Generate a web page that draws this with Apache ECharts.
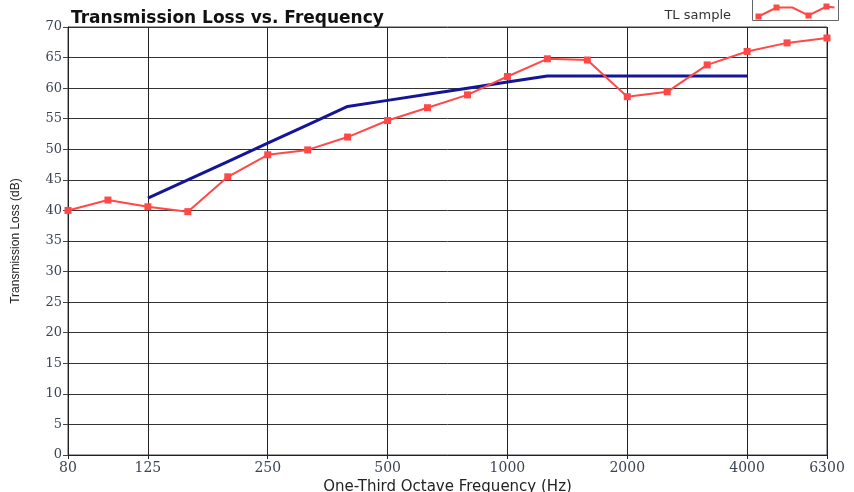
<!DOCTYPE html>
<html>
<head>
<meta charset="utf-8">
<script src="https://cdn.jsdelivr.net/npm/echarts@6/dist/echarts.min.js"></script>
<style>
  html, body { margin: 0; padding: 0; background: #fff; }
  #chart { width: 854px; height: 492px; }
</style>
</head>
<body>
<div id="chart"></div>
<script>
// one-third octave bands
var freqs = ['80', '100', '125', '160', '200', '250', '315', '400', '500', '630',
             '800', '1000', '1250', '1600', '2000', '2500', '3150', '4000', '5000', '6300'];
// bands that carry a label and a vertical grid line
var shownFreqs = ['80', '125', '250', '500', '1000', '2000', '4000', '6300'];
// measured transmission loss (dB)
var tlSample = [40, 41.7, 40.6, 39.8, 45.5, 49.1, 49.9, 52, 54.7, 56.8,
                58.9, 61.9, 64.8, 64.6, 58.6, 59.4, 63.8, 66, 67.4, 68.2];
// reference contour (dB), 125 - 4000 Hz
var refContour = [null, null, 42, 45, 48, 51, 54, 57, 58, 59,
                  60, 61, 62, 62, 62, 62, 62, 62, null, null];
var yTicks = [0, 70, 5]; // min, max, step

function isShown(i) {
    return shownFreqs.indexOf(freqs[i]) >= 0;
}

var chart = echarts.init(document.getElementById('chart'));
var labelFont = 'DejaVu Serif, serif';

chart.setOption({
    backgroundColor: '#fff',
    animation: false,
    title: {
        text: 'Transmission Loss vs. Frequency',
        left: 66,
        top: 5,
        textStyle: {
            fontFamily: 'DejaVu Sans, Verdana, sans-serif',
            fontWeight: 'bold',
            fontSize: 17,
            color: '#111'
        }
    },
    legend: {
        data: ['TL sample'],
        right: 118,
        top: 4,
        icon: 'none',
        itemWidth: 0,
        textStyle: {
            fontFamily: 'DejaVu Sans, Verdana, sans-serif',
            fontSize: 13,
            color: '#333'
        }
    },
    graphic: [
        {
            type: 'group',
            left: 752,
            top: -2,
            children: [
                { type: 'rect', shape: { x: 0, y: 0, width: 86, height: 22 },
                  style: { fill: '#fff', stroke: '#666', lineWidth: 1 } },
                { type: 'polyline',
                  shape: { points: [[6, 18], [24, 9], [40, 9], [56, 17], [74, 8], [82, 9]] },
                  style: { stroke: '#ff4848', lineWidth: 2, fill: null } },
                { type: 'rect', shape: { x: 3, y: 15, width: 6, height: 6 }, style: { fill: '#ff4848' } },
                { type: 'rect', shape: { x: 21, y: 6, width: 6, height: 6 }, style: { fill: '#ff4848' } },
                { type: 'rect', shape: { x: 53, y: 14, width: 6, height: 6 }, style: { fill: '#ff4848' } },
                { type: 'rect', shape: { x: 71, y: 5, width: 6, height: 6 }, style: { fill: '#ff4848' } }
            ]
        }
    ],
    grid: {
        left: 68,
        right: 27,
        top: 27,
        bottom: 37,
        outerBoundsMode: 'none',
        containLabel: false,
        show: true,
        borderColor: '#444',
        borderWidth: 1
    },
    xAxis: {
        type: 'category',
        data: freqs,
        boundaryGap: false,
        name: 'One-Third Octave Frequency (Hz)',
        nameLocation: 'middle',
        nameGap: 22,
        nameTextStyle: {
            fontFamily: 'DejaVu Sans, Verdana, sans-serif',
            fontSize: 15,
            color: '#222'
        },
        axisLine: { show: true, lineStyle: { color: '#222', width: 1 } },
        axisTick: { show: true, interval: function (i) { return isShown(i); }, length: 4, lineStyle: { color: '#222' } },
        axisLabel: {
            interval: function (i) { return isShown(i); },
            fontFamily: labelFont,
            fontSize: 14,
            color: '#3b4556',
            margin: 6
        },
        splitLine: {
            show: true,
            interval: function (i) { return isShown(i); },
            lineStyle: { color: '#222', width: 1 }
        }
    },
    yAxis: {
        type: 'value',
        min: yTicks[0],
        max: yTicks[1],
        interval: yTicks[2],
        name: 'Transmission Loss (dB)',
        nameLocation: 'middle',
        nameGap: 46,
        nameTextStyle: {
            fontFamily: 'Liberation Sans Narrow, Arial Narrow, sans-serif',
            fontSize: 12,
            color: '#222'
        },
        axisLine: { show: true, lineStyle: { color: '#222', width: 1 } },
        axisTick: { show: true, length: 5, lineStyle: { color: '#444' } },
        axisLabel: {
            fontFamily: labelFont,
            fontSize: 13,
            color: '#3b4556',
            margin: 6
        },
        splitLine: { show: true, lineStyle: { color: '#333', width: 1 } }
    },
    series: [
        {
            name: 'Reference contour',
            type: 'line',
            data: refContour,
            showSymbol: false,
            symbol: 'none',
            connectNulls: false,
            lineStyle: { color: '#15159a', width: 3 },
            itemStyle: { color: '#15159a' },
            z: 3
        },
        {
            name: 'TL sample',
            type: 'line',
            data: tlSample,
            symbol: 'rect',
            symbolSize: 7,
            lineStyle: { color: '#ff4848', width: 2 },
            itemStyle: { color: '#ff4848' },
            z: 4
        }
    ]
});
</script>
</body>
</html>
